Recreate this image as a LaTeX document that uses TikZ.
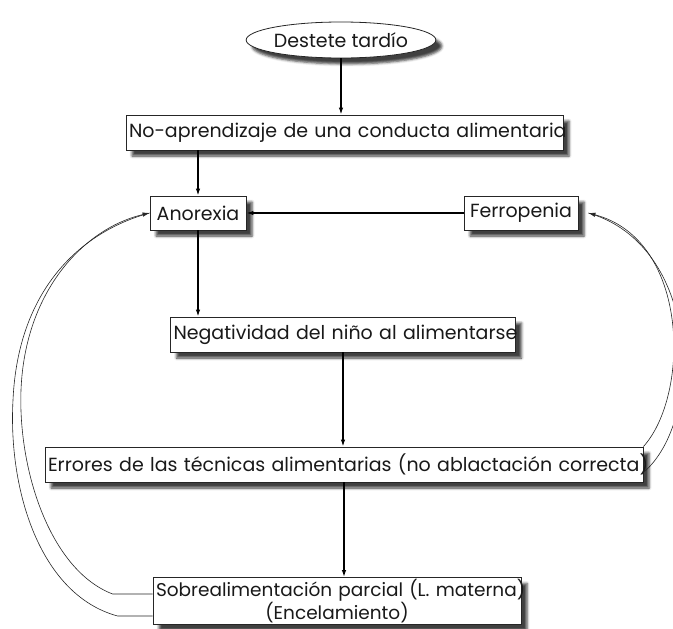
\documentclass[tikz,border=0pt]{standalone}
\usepackage{fontspec}
\setmainfont{Poppins}
\usetikzlibrary{shapes.geometric,shadows.blur,arrows.meta}
\begin{document}
\begin{tikzpicture}[x=1pt,y=-1pt,
  every node/.style={font=\fontsize{19}{23}\selectfont, text=black!90},
  shad/.style={blur shadow={shadow xshift=6pt, shadow yshift=-6pt, shadow blur radius=2.5pt, shadow opacity=75}},
  box/.style={draw=black!85, line width=0.8pt, fill=white, inner sep=0pt, align=center, shad},
  arr/.style={-{Latex[length=7pt,width=4.5pt]}, line width=1.3pt},
  loopline/.style={line width=0.6pt, black!85},
  looparr/.style={loopline, -{Latex[length=7pt,width=4.5pt]}},
]
\useasboundingbox (0,0) rectangle (673,629);

\node[box, ellipse, inner sep=0pt, minimum width=150pt, minimum height=36pt] (d) at (341,40) {Destete tardío};
\node[box, minimum width=437pt, minimum height=35pt, text width=431pt] (n) at (344.5,132.5) {\mbox{No-aprendizaje de una conducta alimentaria}};
\node[box, minimum width=96pt, minimum height=34pt, text width=90pt] (a) at (198,213) {\mbox{Anorexia}};
\node[box, minimum width=114pt, minimum height=34pt, text width=108pt] (f) at (521,213) {\mbox{Ferropenia}};
\node[box, minimum width=345pt, minimum height=35pt, text width=339pt] (g) at (343,334.5) {\mbox{Negatividad del niño al alimentarse}};
\node[box, minimum width=598pt, minimum height=35pt, text width=592pt] (e) at (344,464.5) {\mbox{Errores de las técnicas alimentarias (no ablactación correcta)}};
\node[box, minimum width=368pt, minimum height=47pt, text width=362pt, font=\fontsize{18.5}{21}\selectfont] (s) at (337,601) {\mbox{Sobrealimentación parcial (L. materna)}\\\mbox{(Encelamiento)}};

\draw[arr] (d.south) -- (d.south |- n.north);
\draw[arr] (a.north |- n.south) -- (a.north);
\draw[arr] (f.west) -- (a.east);
\draw[arr] (a.south) -- (a.south |- g.north);
\draw[arr] (g.south) -- (g.south |- e.north);
\draw[arr] (e.south) -- (e.south |- s.north);

% left feedback loops
\draw[looparr] ([yshift=7pt]s.west) -- ++(-40,0)
  .. controls (50,570) and (18,470) .. (21,390)
  .. controls (25,290) and (85,228) .. (a.west);
\draw[loopline] ([yshift=-15pt]s.west) -- ++(-35,0)
  .. controls (40,595) and (8,490) .. (13,400)
  .. controls (18,290) and (80,232) .. (a.west);

% right feedback loops
\draw[looparr] (e.north east) .. controls (690,395) and (690,240) .. ([xshift=10pt]f.east);
\draw[loopline] ([yshift=-8pt]e.east) .. controls (705,420) and (700,245) .. ([xshift=10pt]f.east);
\end{tikzpicture}
\end{document}
